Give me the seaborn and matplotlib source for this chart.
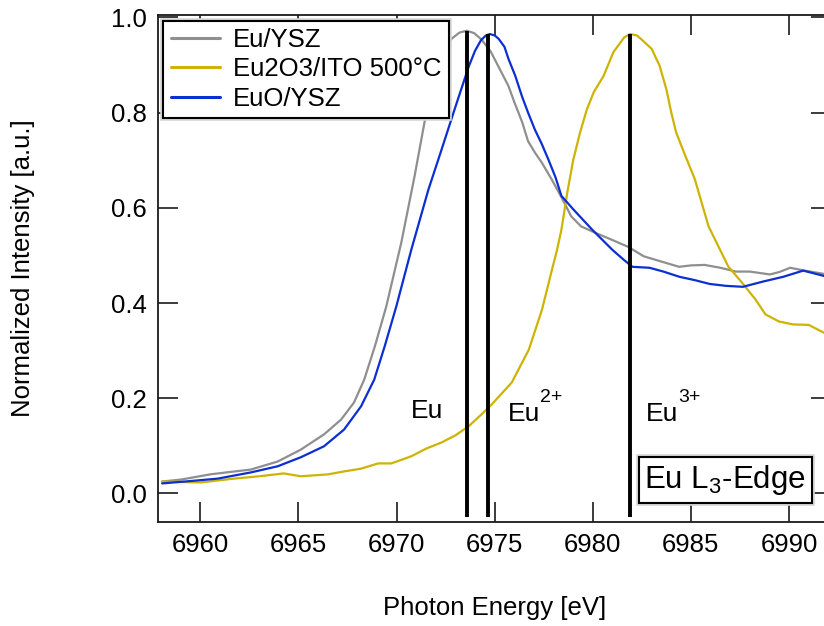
import numpy as np
import pandas as pd
import matplotlib
matplotlib.use("Agg")
import matplotlib.pyplot as plt
import matplotlib.patheffects as pe
from matplotlib.lines import Line2D
import seaborn as sns

# ---- spectra: photon energy [eV] and normalized intensity ----
eu_ysz_energy = [6958.05, 6959.0, 6960.5, 6961.5, 6962.56, 6963.94, 6965.12, 6966.30,
                 6967.17, 6967.83, 6968.35, 6968.9, 6969.47, 6970.24, 6970.91, 6971.42,
                 6971.8, 6972.14, 6972.5, 6972.80, 6973.2, 6973.57, 6973.95, 6974.34,
                 6974.8, 6975.2, 6975.7, 6976.0, 6976.4, 6976.7, 6977.05, 6977.4,
                 6977.9, 6978.43, 6978.9, 6979.4, 6980.1, 6980.9, 6981.8, 6982.6,
                 6983.5, 6984.4, 6985.0, 6985.7, 6986.5, 6987.29, 6988.0, 6989.03,
                 6989.5, 6990.06, 6990.8, 6991.95]
eu_ysz_int = [0.025, 0.029, 0.040, 0.045, 0.050, 0.067, 0.092, 0.124,
              0.155, 0.191, 0.239, 0.310, 0.392, 0.527, 0.665, 0.779,
              0.850, 0.896, 0.932, 0.955, 0.968, 0.972, 0.967, 0.953,
              0.928, 0.896, 0.856, 0.822, 0.780, 0.740, 0.716, 0.695,
              0.660, 0.620, 0.582, 0.561, 0.548, 0.534, 0.518, 0.498,
              0.487, 0.476, 0.479, 0.480, 0.474, 0.466, 0.466, 0.460,
              0.465, 0.474, 0.468, 0.460]

eu2o3_energy = [6958.05, 6960.0, 6961.69, 6963.0, 6964.25, 6965.12, 6966.50, 6967.3,
                6968.19, 6969.06, 6969.73, 6970.75, 6971.5, 6972.29, 6973.0, 6973.67,
                6974.3, 6974.85, 6975.87, 6976.74, 6977.41, 6977.92, 6978.18, 6978.4,
                6978.7, 6979.0, 6979.35, 6979.7, 6980.05, 6980.55, 6981.05, 6981.6,
                6981.9, 6982.25, 6982.5, 6983.0, 6983.4, 6983.75, 6984.0, 6984.25,
                6984.65, 6985.2, 6985.9, 6986.4, 6986.9, 6987.6, 6988.3, 6988.8,
                6989.5, 6990.2, 6991.0, 6991.95]
eu2o3_int = [0.025, 0.023, 0.031, 0.036, 0.042, 0.036, 0.040, 0.046,
             0.052, 0.063, 0.063, 0.078, 0.094, 0.107, 0.122, 0.141,
             0.165, 0.187, 0.233, 0.302, 0.386, 0.470, 0.512, 0.554,
             0.632, 0.700, 0.758, 0.807, 0.843, 0.877, 0.927, 0.958,
             0.965, 0.962, 0.953, 0.934, 0.899, 0.849, 0.800, 0.758,
             0.716, 0.660, 0.561, 0.519, 0.477, 0.443, 0.407, 0.376,
             0.361, 0.355, 0.354, 0.334]

euo_energy = [6958.05, 6959.5, 6960.87, 6962.56, 6963.94, 6965.12, 6966.30, 6967.32,
              6968.19, 6968.86, 6969.4, 6969.98, 6970.75, 6971.62, 6972.29, 6972.95,
              6973.67, 6974.0, 6974.3, 6974.55, 6974.75, 6975.0, 6975.2, 6975.5,
              6975.7, 6976.05, 6976.4, 6976.7, 6977.05, 6977.4, 6977.75, 6978.1,
              6978.4, 6979.0, 6979.97, 6980.99, 6981.6, 6982.02, 6982.89, 6983.6,
              6984.42, 6985.2, 6985.96, 6986.8, 6987.65, 6988.67, 6989.7, 6990.72,
              6991.3, 6991.95]
euo_int = [0.021, 0.026, 0.031, 0.044, 0.057, 0.076, 0.099, 0.134,
           0.183, 0.239, 0.310, 0.392, 0.512, 0.638, 0.722, 0.806,
           0.896, 0.930, 0.952, 0.962, 0.965, 0.962, 0.955, 0.938,
           0.913, 0.877, 0.833, 0.800, 0.764, 0.734, 0.700, 0.664,
           0.625, 0.597, 0.554, 0.512, 0.490, 0.476, 0.474, 0.466,
           0.455, 0.448, 0.440, 0.436, 0.434, 0.445, 0.455, 0.468,
           0.462, 0.455]

samples = ["Eu/YSZ", "Eu2O3/ITO 500°C", "EuO/YSZ"]
sample_colors = ["#8f8f8f", "#cdb404", "#0b2fd0"]

# ---- reference edge positions ----
edge_energies = [6973.59, 6974.67, 6981.92]
edge_tops = [0.972, 0.965, 0.965]
edge_bottom = -0.049

x_ticks = [6960, 6965, 6970, 6975, 6980, 6985, 6990]
y_ticks = [0.0, 0.2, 0.4, 0.6, 0.8, 1.0]

df = pd.concat([
    pd.DataFrame({"energy": eu_ysz_energy, "intensity": eu_ysz_int, "sample": samples[0]}),
    pd.DataFrame({"energy": eu2o3_energy, "intensity": eu2o3_int, "sample": samples[1]}),
    pd.DataFrame({"energy": euo_energy, "intensity": euo_int, "sample": samples[2]}),
], ignore_index=True)

sns.set_style("ticks")
plt.rcParams["font.family"] = ["Liberation Sans", "DejaVu Sans"]
plt.rcParams["mathtext.fontset"] = "custom"
plt.rcParams["mathtext.rm"] = "Liberation Sans"
plt.rcParams["mathtext.it"] = "Liberation Sans:italic"
for key in ["text.color", "axes.labelcolor", "xtick.color", "ytick.color"]:
    plt.rcParams[key] = "black"

fig = plt.figure(figsize=(8.24, 6.26), dpi=100)
ax = fig.add_axes([158 / 824, 104.5 / 626, 673 / 824, 506.5 / 626])

palette = dict(zip(samples, sample_colors))
sns.lineplot(data=df, x="energy", y="intensity", hue="sample", hue_order=samples,
             palette=palette, sort=False, estimator=None, lw=1.6, ax=ax,
             legend=False, zorder=2)

ax.vlines(edge_energies, edge_bottom, edge_tops, colors="black", lw=2.8, zorder=3)

ax.set_xlim(6957.84, 6992.14)
ax.set_ylim(-0.059, 1.005)
ax.set_xticks(x_ticks)
ax.set_yticks(y_ticks)
ax.set_yticklabels([f"{v:.1f}" for v in y_ticks])

for side in ["left", "right", "top", "bottom"]:
    ax.spines[side].set_visible(True)
    ax.spines[side].set_linewidth(1.3)
    ax.spines[side].set_color("#1a1a1a")
ax.tick_params(axis="both", which="major", direction="in", length=14.5, width=1.2,
               color="#1a1a1a", labelcolor="black", labelsize=18.5, pad=8,
               top=True, right=True, bottom=True, left=True)

ax.set_xlabel("Photon Energy [eV]", fontsize=18.5, labelpad=28)
ax.set_ylabel("Normalized Intensity [a.u.]", fontsize=18.5, labelpad=55)

# edge labels
ax.text(6971.55, 0.174, "Eu", fontsize=19, ha="center", va="center", zorder=4)
ax.text(6975.69, 0.153, "Eu", fontsize=19, ha="left", va="baseline", zorder=4)
ax.text(6977.31, 0.193, "2+", fontsize=14, ha="left", va="baseline", zorder=4)
ax.text(6982.70, 0.153, "Eu", fontsize=19, ha="left", va="baseline", zorder=4)
ax.text(6984.35, 0.193, "3+", fontsize=14, ha="left", va="baseline", zorder=4)

edge_label = ax.text(6986.75, 0.028, r"Eu L$_{\mathrm{3}}$-Edge", fontsize=22.5,
                     ha="center", va="center", zorder=5,
                     bbox=dict(boxstyle="square,pad=0.18", fc="white", ec="black", lw=1.5))
edge_label.get_bbox_patch().set_path_effects(
    [pe.Stroke(linewidth=4, foreground="#d4d4d4"), pe.Normal()])

handles = [Line2D([], [], color=c, lw=2.2) for c in sample_colors]
leg = ax.legend(handles, samples, loc="upper left", bbox_to_anchor=(0.008, 0.989),
                borderaxespad=0, fontsize=18.5, frameon=True, fancybox=False,
                handlelength=1.9, handletextpad=0.5, labelspacing=0.2,
                borderpad=0.3)
frame = leg.get_frame()
frame.set_edgecolor("black")
frame.set_linewidth(1.5)
frame.set_alpha(1)
frame.set_path_effects([pe.Stroke(linewidth=4, foreground="#d4d4d4"), pe.Normal()])
leg.set_zorder(6)

fig.savefig("out.png", dpi=100)
